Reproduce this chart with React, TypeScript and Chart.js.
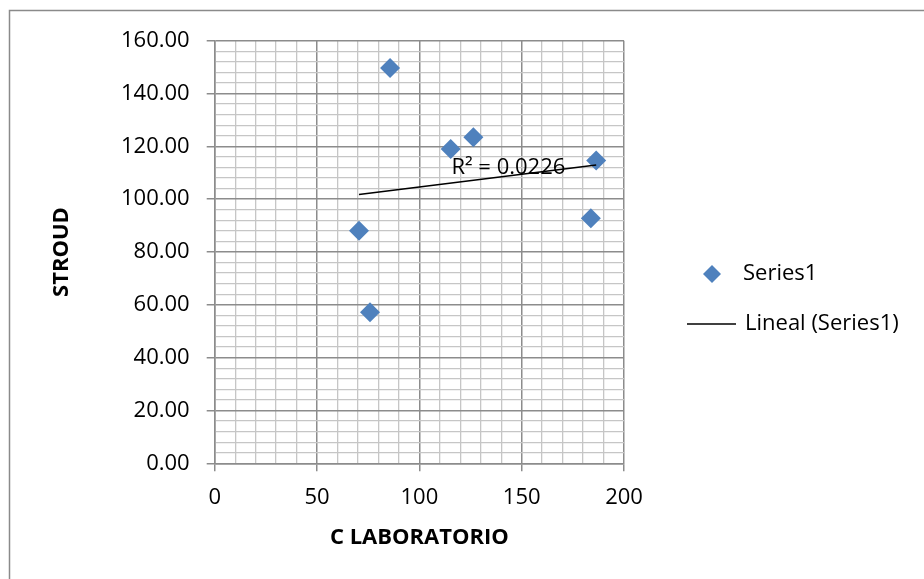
import React, { useEffect, useRef } from 'react';
import { Chart, registerables } from 'chart.js';

Chart.register(...registerables);

// ---- data ----
const labValues = [85.7, 115.3, 126.4, 186.4, 183.8, 70.5, 75.9];
const stroudValues = [149.7, 119.0, 123.4, 114.6, 92.8, 88.0, 57.2];
const trendX = [70.5, 186.4];
const trendY = [101.8, 112.9];
const seriesLabel = 'Series1';
const trendLabel = 'Lineal (Series1)';
const r2Text = 'R² = 0.0226';
const r2Anchor = [143.5, 111.8];
const xTitle = 'C LABORATORIO';
const yTitle = 'STROUD';
const xRange = [0, 200];
const yRange = [0, 160];
const xMajor = 50;
const xMinor = 10;
const yMajor = 20;
const yMinor = 4;

const FONT = "'Open Sans', 'Noto Sans', sans-serif";
const MAJOR = '#8c8c8c';
const MINOR = '#c6c6c6';
const BLUE = '#4F81BD';

const isMajor = (v: number, step: number) => Math.abs(v / step - Math.round(v / step)) < 1e-6;

const framePlugin = {
  id: 'frame',
  beforeDraw(chart: any) {
    const { ctx, width, height } = chart;
    ctx.save();
    ctx.fillStyle = '#ffffff';
    ctx.fillRect(0, 0, width, height);
    ctx.strokeStyle = '#8a8a8a';
    ctx.lineWidth = 1.5;
    ctx.beginPath();
    ctx.moveTo(9.5, height + 5);
    ctx.lineTo(9.5, 10.5);
    ctx.lineTo(width + 5, 10.5);
    ctx.stroke();
    ctx.restore();
  },
};

const r2Plugin = {
  id: 'r2label',
  afterDatasetsDraw(chart: any) {
    const { ctx, scales } = chart;
    const px = scales.x.getPixelForValue(r2Anchor[0]);
    const py = scales.y.getPixelForValue(r2Anchor[1]);
    ctx.save();
    ctx.font = `22px ${FONT}`;
    ctx.fillStyle = '#000';
    ctx.textAlign = 'center';
    ctx.textBaseline = 'middle';
    ctx.fillText(r2Text, px, py);
    ctx.restore();
  },
};

const legendPlugin = {
  id: 'customLegend',
  afterDraw(chart: any) {
    const { ctx } = chart;
    const ds0 = chart.data.datasets[0];
    const ds1 = chart.data.datasets[1];
    ctx.save();
    // diamond marker
    const cx = 712, cy = 274, r = 9;
    ctx.fillStyle = ds0.backgroundColor;
    ctx.beginPath();
    ctx.moveTo(cx - r, cy);
    ctx.lineTo(cx, cy - r);
    ctx.lineTo(cx + r, cy);
    ctx.lineTo(cx, cy + r);
    ctx.closePath();
    ctx.fill();
    ctx.font = `22px ${FONT}`;
    ctx.fillStyle = '#000';
    ctx.textAlign = 'left';
    ctx.textBaseline = 'middle';
    ctx.fillText(ds0.label, 743, cy);
    // trend line sample
    const ly = 324;
    ctx.strokeStyle = ds1.borderColor;
    ctx.lineWidth = ds1.borderWidth;
    ctx.beginPath();
    ctx.moveTo(687, ly);
    ctx.lineTo(736, ly);
    ctx.stroke();
    ctx.fillText(ds1.label, 745, ly);
    ctx.restore();
  },
};

export default function App() {
  const ref = useRef<HTMLCanvasElement>(null);

  useEffect(() => {
    if (!ref.current) return;
    const chart = new Chart(ref.current, {
      type: 'scatter',
      data: {
        datasets: [
          {
            type: 'scatter',
            label: seriesLabel,
            data: labValues.map((x, i) => ({ x, y: stroudValues[i] })),
            pointStyle: 'rectRot',
            pointRadius: 10,
            pointHoverRadius: 10,
            backgroundColor: BLUE,
            borderColor: BLUE,
            borderWidth: 0,
            order: 2,
          } as any,
          {
            type: 'line',
            label: trendLabel,
            data: trendX.map((x, i) => ({ x, y: trendY[i] })),
            borderColor: '#000000',
            borderWidth: 1.5,
            pointRadius: 0,
            pointHoverRadius: 0,
            fill: false,
            tension: 0,
            order: 1,
          } as any,
        ],
      },
      options: {
        responsive: false,
        animation: false,
        devicePixelRatio: 1,
        events: [],
        layout: { padding: { left: 0, top: 40.7, right: 300, bottom: 0 } },
        plugins: {
          legend: { display: false },
          tooltip: { enabled: false },
          title: { display: false },
        },
        scales: {
          x: {
            type: 'linear',
            position: 'bottom',
            min: xRange[0],
            max: xRange[1],
            afterFit: (s: any) => {
              s.height = 579 - 463.3;
            },
            ticks: {
              stepSize: xMinor,
              autoSkip: false,
              maxRotation: 0,
              minRotation: 0,
              maxTicksLimit: 1000,
              padding: 13,
              color: '#000',
              font: { family: FONT, size: 22 },
              callback: (v: any) => (isMajor(Number(v), xMajor) ? String(v) : ''),
            },
            grid: {
              drawTicks: true,
              tickLength: 8,
              color: (c: any) => (c.tick && isMajor(c.tick.value, xMajor) ? MAJOR : MINOR),
              lineWidth: (c: any) => (c.tick && isMajor(c.tick.value, xMajor) ? 1.5 : 1.3),
              tickColor: (c: any) => (c.tick && isMajor(c.tick.value, xMajor) ? MAJOR : 'rgba(0,0,0,0)'),
            },
            border: { display: true, color: MAJOR, width: 1.5 },
            title: {
              display: true,
              text: xTitle,
              color: '#000',
              font: { family: FONT, size: 22, weight: 'bold' },
              padding: { top: 0, bottom: 28 },
            },
          },
          y: {
            type: 'linear',
            position: 'left',
            min: yRange[0],
            max: yRange[1],
            afterFit: (s: any) => {
              s.width = 214.7;
            },
            ticks: {
              stepSize: yMinor,
              autoSkip: false,
              maxTicksLimit: 1000,
              padding: 17,
              color: '#000',
              font: { family: FONT, size: 22 },
              callback: (v: any) => (isMajor(Number(v), yMajor) ? Number(v).toFixed(2) : ''),
            },
            grid: {
              drawTicks: true,
              tickLength: 8,
              color: (c: any) => (c.tick && isMajor(c.tick.value, yMajor) ? MAJOR : MINOR),
              lineWidth: (c: any) => (c.tick && isMajor(c.tick.value, yMajor) ? 1.5 : 1.3),
              tickColor: (c: any) => (c.tick && isMajor(c.tick.value, yMajor) ? MAJOR : 'rgba(0,0,0,0)'),
            },
            border: { display: true, color: MAJOR, width: 1.5 },
            title: {
              display: true,
              text: yTitle,
              color: '#000',
              font: { family: FONT, size: 22, weight: 'bold' },
              padding: { top: 49, bottom: 0 },
            },
          },
        },
      } as any,
      plugins: [framePlugin, r2Plugin, legendPlugin],
    });
    return () => chart.destroy();
  }, []);

  return (
    <div style={{ position: 'fixed', left: 0, top: 0, width: 924, height: 579, background: '#fff' }}>
      <canvas ref={ref} width={924} height={579} style={{ display: 'block', width: 924, height: 579 }} />
    </div>
  );
}
